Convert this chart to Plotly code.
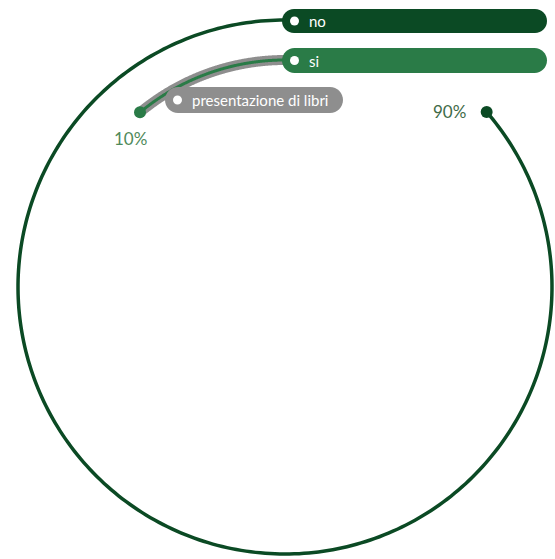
import numpy as np
import plotly.graph_objects as go

# ---- data ----
categories = ["no", "si"]
values = [90, 10]
value_labels = ["90%", "10%"]
question = "presentazione di libri"

# ---- style ----
W, H = 555, 559
CX, CY = 285, 287          # polar centre in px
HALF = 270                 # polar half size in px
ring_radius = {"no": 267, "si": 227}
deg_per_pct = {"no": 3.455, "si": 3.97}
ring_color = {"no": "#0b4a24", "si": "#2a7b47"}
GRAY = "#8e8e8e"
FONT = "Lato"

fig = go.Figure()

for cat, val in zip(categories, values):
    end = val * deg_per_pct[cat]
    th = np.linspace(0, end, 300)
    r = np.full_like(th, ring_radius[cat], dtype=float)
    if cat == "si":
        fig.add_trace(go.Scatterpolar(theta=th, r=r, mode="lines",
                                      line=dict(color=GRAY, width=10),
                                      hoverinfo="skip", showlegend=False))
    fig.add_trace(go.Scatterpolar(theta=th, r=r, mode="lines",
                                  line=dict(color=ring_color[cat], width=3.5 if cat == "no" else 3),
                                  hoverinfo="skip", showlegend=False))
    fig.add_trace(go.Scatterpolar(theta=[end], r=[ring_radius[cat]], mode="markers",
                                  marker=dict(color=ring_color[cat], size=12),
                                  hoverinfo="skip", showlegend=False))

fig.update_layout(
    width=W, height=H,
    margin=dict(l=0, r=0, t=0, b=0),
    paper_bgcolor="white",
    plot_bgcolor="rgba(0,0,0,0)",
    showlegend=False,
    polar=dict(
        domain=dict(x=[(CX - HALF) / W, (CX + HALF) / W],
                    y=[(H - CY - HALF) / H, (H - CY + HALF) / H]),
        bgcolor="rgba(0,0,0,0)",
        radialaxis=dict(range=[0, HALF], visible=False, showgrid=False, showline=False),
        angularaxis=dict(rotation=90, direction="counterclockwise", visible=False,
                         showgrid=False, showline=False, showticklabels=False, ticks=""),
    ),
    xaxis=dict(range=[0, W], visible=False, domain=[0, 1], fixedrange=True),
    yaxis=dict(range=[H, 0], visible=False, domain=[0, 1], fixedrange=True),
)


def pill_path(x0, x1, y0, y1):
    r = (y1 - y0) / 2
    k = 0.5523 * r
    ym = (y0 + y1) / 2
    return (f"M {x0 + r},{y0} L {x1 - r},{y0} "
            f"C {x1 - r + k},{y0} {x1},{ym - k} {x1},{ym} "
            f"C {x1},{ym + k} {x1 - r + k},{y1} {x1 - r},{y1} "
            f"L {x0 + r},{y1} "
            f"C {x0 + r - k},{y1} {x0},{ym + k} {x0},{ym} "
            f"C {x0},{ym - k} {x0 + r - k},{y0} {x0 + r},{y0} Z")


pills = [
    (282, 547, 9, 33, ring_color["no"], categories[0]),
    (282, 547, 48, 73, ring_color["si"], categories[1]),
    (165, 343, 87, 113, GRAY, question),
]
for x0, x1, y0, y1, col, txt in pills:
    fig.add_shape(type="path", path=pill_path(x0, x1, y0, y1), xref="x", yref="y",
                  fillcolor=col, line=dict(width=0), layer="above")
    ym = (y0 + y1) / 2
    fig.add_shape(type="circle", xref="x", yref="y", x0=x0 + 8, x1=x0 + 17,
                  y0=ym - 4.5, y1=ym + 4.5, fillcolor="white", line=dict(width=0), layer="above")
    fig.add_annotation(x=x0 + 25, y=ym, xref="x", yref="y", text=txt, showarrow=False,
                       xanchor="left", yanchor="middle",
                       font=dict(family=FONT, size=15, color="white"))

# percent labels
fig.add_annotation(x=468, y=111, xref="x", yref="y", text=value_labels[0], showarrow=False,
                   xanchor="right", yanchor="middle", font=dict(family=FONT, size=17, color="#3f6b48"))
fig.add_annotation(x=130, y=138, xref="x", yref="y", text=value_labels[1], showarrow=False,
                   xanchor="center", yanchor="middle", font=dict(family=FONT, size=17, color="#4f8a5a"))

fig.write_html("out.html",
               config={"displayModeBar": False, "staticPlot": True},
               post_script="document.body.style.margin='0';document.body.style.overflow='hidden';")
